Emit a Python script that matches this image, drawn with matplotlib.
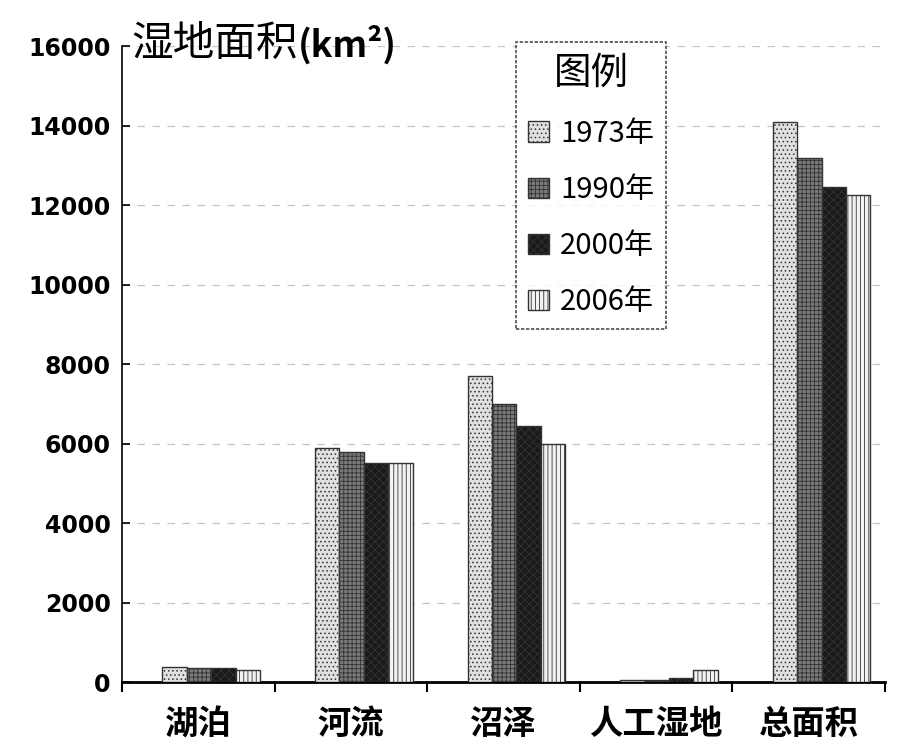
import numpy as np
import matplotlib as mpl
mpl.use('Agg')
import matplotlib.pyplot as plt
from matplotlib.ticker import FixedLocator

plt.rcParams['font.family'] = ['Noto Sans CJK SC', 'DejaVu Sans']
plt.rcParams['hatch.linewidth'] = 0.6

categories = ['湖泊', '河流', '沼泽', '人工湿地', '总面积']
years = ['1973年', '1990年', '2000年', '2006年']
v1973 = [380, 5900, 7700, 50, 14100]
v1990 = [350, 5800, 7000, 60, 13200]
v2000 = [350, 5500, 6450, 100, 12450]
v2006 = [300, 5500, 6000, 300, 12250]
yticks = [0, 2000, 4000, 6000, 8000, 10000, 12000, 14000, 16000]

series = [v1973, v1990, v2000, v2006]
faces = ['#e0e0e0', '#7a7a7a', '#1a1a1a', '#f2f2f2']
hatches = ['....', '++++', 'xxxx', '||||']

fig = plt.figure(figsize=(9.03, 7.47), dpi=100)
ax = fig.add_axes([0.135, 0.087, 0.845, 0.851])

x = np.arange(len(categories))
w = 0.16
shift = 0.085  # bars sit a little right of the category centre
for i, vals in enumerate(series):
    ax.bar(x + shift + (i - 1.5) * w, vals, w, color=faces[i], hatch=hatches[i],
           edgecolor='#333333', linewidth=1.0, label=years[i], zorder=3)

ax.set_ylim(0, 16000)
ax.set_xlim(-0.5, 4.5)
ax.set_yticks(yticks)
ax.set_yticklabels([str(t) for t in yticks], fontsize=17, fontweight='bold',
                   family='DejaVu Sans')
ax.set_xticks(x)
ax.set_xticklabels(categories, fontsize=24, fontweight='bold')
ax.xaxis.set_minor_locator(FixedLocator(np.arange(-0.5, 5, 1.0)))
ax.tick_params(axis='x', which='major', length=0, pad=19)
ax.tick_params(axis='x', which='minor', length=7, width=1.5, direction='out')
ax.tick_params(axis='y', length=6, width=1.2, direction='in', pad=8)

ax.spines['top'].set_visible(False)
ax.spines['right'].set_visible(False)
ax.spines['left'].set_linewidth(1.2)
ax.spines['bottom'].set_linewidth(2.0)
ax.grid(axis='y', linestyle=(0, (6, 6)), color='#c4c4c4', linewidth=0.9, zorder=0)

# axis title: chinese part normal, unit part bold
t1 = fig.text(0.146, 0.94, '湿地面积', fontsize=30, va='center', ha='left')
r = fig.canvas.get_renderer()
bb = t1.get_window_extent(renderer=r)
fig.text(bb.x1 / fig.bbox.width, 0.94, '(km²)', fontsize=26, fontweight='bold',
         va='center', ha='left')

leg = ax.legend(title='图例', loc='upper left', bbox_to_anchor=(0.498, 1.03),
                fontsize=21, title_fontsize=27, frameon=True, fancybox=False,
                handlelength=0.7, handleheight=0.7, handletextpad=0.4,
                labelspacing=0.9, borderpad=0.4)
leg.get_frame().set_edgecolor('#222222')
leg.get_frame().set_linestyle((0, (2, 1)))
leg.get_frame().set_linewidth(1.2)

fig.savefig('out.png', dpi=100)
